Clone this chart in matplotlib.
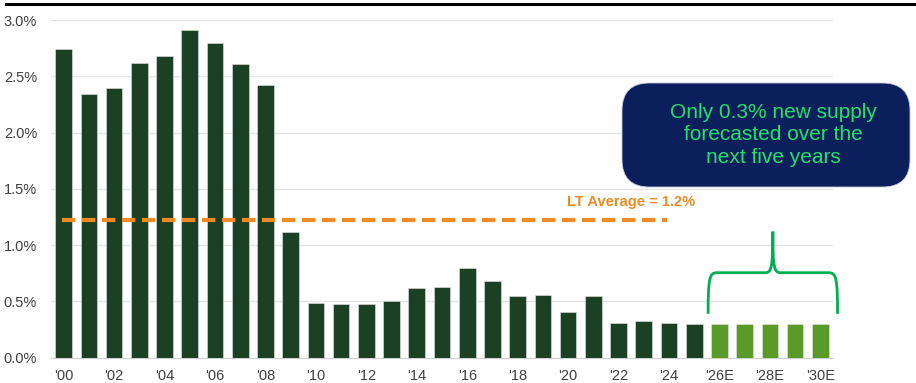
import numpy as np
import matplotlib.pyplot as plt
from matplotlib.patches import FancyBboxPatch, PathPatch
from matplotlib.path import Path
from matplotlib.lines import Line2D

plt.rcParams["font.family"] = ["Liberation Sans", "DejaVu Sans"]

# data (annual new supply, % of stock)
years = [f"'{y:02d}" for y in range(0, 26)] + [f"'{y:02d}E" for y in range(26, 31)]
supply = [2.74, 2.34, 2.40, 2.62, 2.68, 2.91, 2.80, 2.61, 2.42, 1.12,
          0.49, 0.475, 0.48, 0.50, 0.62, 0.63, 0.80, 0.68, 0.55, 0.56,
          0.41, 0.55, 0.31, 0.33, 0.31, 0.30]
forecast = [0.30, 0.30, 0.30, 0.30, 0.30]
lt_average = 1.22

DARK = "#1b4024"
LIGHT = "#5a9a28"
ORANGE = "#f08a24"
NAVY = "#0a1f5c"
BRIGHT = "#1fe26a"

fig = plt.figure(figsize=(9.16, 3.83), dpi=100)
ax = fig.add_axes([51 / 916, 25.3 / 383, 782 / 916, 337.7 / 383])

x_hist = np.arange(len(supply))
x_fc = np.arange(len(supply), len(supply) + len(forecast))
ax.bar(x_hist, supply, width=0.66, color=DARK, edgecolor="#e6e6e6", linewidth=0.4, zorder=3)
ax.bar(x_fc, forecast, width=0.66, color=LIGHT, edgecolor="#e6e6e6", linewidth=0.4, zorder=3)

ax.set_xlim(-0.5, 30.5)
ax.set_ylim(0, 3.0)
ax.set_yticks(np.arange(0, 3.01, 0.5))
ax.set_yticklabels([f"{v:.1f}%" for v in np.arange(0, 3.01, 0.5)])
ticks = np.arange(0, 31, 2)
ax.set_xticks(ticks)
ax.set_xticklabels([years[i] for i in ticks])
ax.tick_params(length=0, labelsize=10.5, labelcolor="#404040")
ax.tick_params(axis="x", pad=8)
ax.tick_params(axis="y", pad=10)
ax.grid(axis="y", color="#e4e4e4", linewidth=1, zorder=0)
for s in ["top", "right", "left"]:
    ax.spines[s].set_visible(False)
ax.spines["bottom"].set_color("#d0d0d0")

# long-term average line
ax.plot([-0.05, 23.9], [lt_average, lt_average], color=ORANGE, lw=3,
        linestyle=(0, (3.2, 1.6)), zorder=4)
ax.text(22.5, lt_average + 0.1, "LT Average = 1.2%", color=ORANGE, fontsize=10.5,
        fontweight="bold", ha="center", va="bottom")

# brace over the forecast years
x0, x1 = x_fc[0] - 0.45, x_fc[-1] + 0.68
xm = (x0 + x1) / 2
yb, yh, yp = 0.39, 0.755, 1.12
verts = [(x0, yb), (x0, yh - 0.05), (x0 + 0.05, yh), (x0 + 0.35, yh),
         (xm - 0.3, yh),
         (xm - 0.05, yh), (xm, yh + 0.05), (xm, yp),
         (xm, yh + 0.05), (xm + 0.05, yh), (xm + 0.3, yh),
         (x1 - 0.35, yh),
         (x1 - 0.05, yh), (x1, yh - 0.05), (x1, yb)]
codes = [Path.MOVETO, Path.CURVE4, Path.CURVE4, Path.CURVE4,
         Path.LINETO,
         Path.CURVE4, Path.CURVE4, Path.CURVE4,
         Path.CURVE4, Path.CURVE4, Path.CURVE4,
         Path.LINETO,
         Path.CURVE4, Path.CURVE4, Path.CURVE4]
ax.add_patch(PathPatch(Path(verts, codes), facecolor="none", edgecolor="#00b050",
                       lw=2, clip_on=False, zorder=5))

# callout box
box = FancyBboxPatch((622 / 916, 1 - 187 / 383), 288 / 916, 104 / 383,
                     boxstyle="round,pad=0,rounding_size=0.03",
                     transform=fig.transFigure, facecolor=NAVY, edgecolor="#c8c8d8",
                     lw=0.6, mutation_aspect=916 / 383, zorder=6)
fig.patches.append(box)
fig.text(773 / 916, 1 - 135 / 383, "Only 0.3% new supply\nforecasted over the\nnext five years",
         color=BRIGHT, fontsize=15, ha="center", va="center", linespacing=1.25, zorder=7)

# rule across the top
fig.add_artist(Line2D([6 / 916, 1], [1 - 4 / 383, 1 - 4 / 383], color="black", lw=2.2,
                      transform=fig.transFigure))

fig.savefig("out.png", dpi=100)
